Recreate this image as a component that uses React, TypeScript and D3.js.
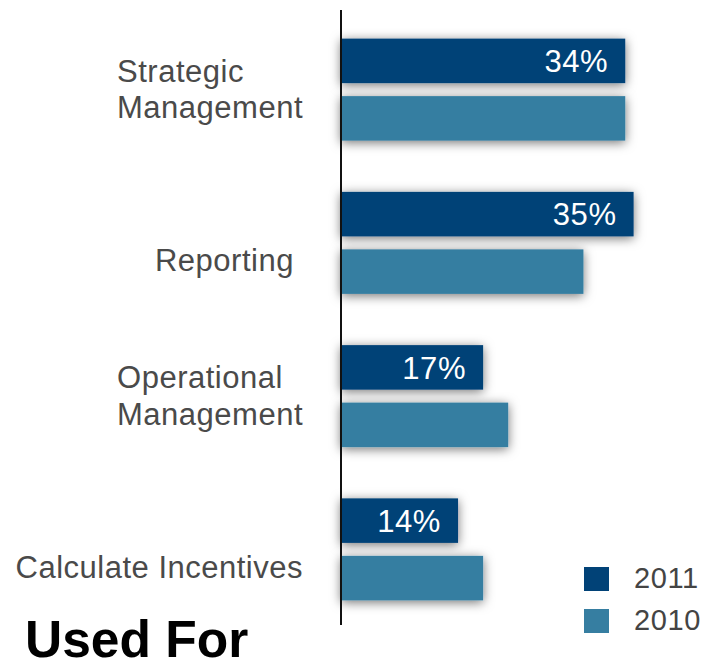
import React, { useEffect, useRef } from "react";
import * as d3 from "d3";

// Chart data
const categories: string[][] = [
  ["Strategic", "Management"],
  ["Reporting\u00a0"],
  ["Operational", "Management"],
  ["Calculate Incentives"],
];
const seriesNames = ["2011", "2010"];
const values2011 = [34, 35, 17, 14];
const values2010 = [34, 29, 20, 17];
const colors = ["#014277", "#367ea1"];
const title = "Used For";

const W = 709;
const H = 665;
const FONT = "'Liberation Sans', Arial, Helvetica, sans-serif";

export default function App() {
  const ref = useRef<SVGSVGElement | null>(null);

  useEffect(() => {
    const svg = d3.select(ref.current);
    svg.selectAll("*").remove();

    const axisX = 341;
    const x = d3.scaleLinear().domain([0, 40]).range([axisX, axisX + 334.4]);
    const groupIdx = categories.map((_, i) => i);
    const y = d3.scaleBand<number>().domain(groupIdx).range([13, 626]).padding(0);
    const pairHeight = 102;
    const inner = d3
      .scaleBand<string>()
      .domain(seriesNames)
      .range([-pairHeight / 2, pairHeight / 2])
      .paddingInner(0.226)
      .paddingOuter(0);

    const defs = svg.append("defs");
    const f = defs
      .append("filter")
      .attr("id", "barShadow")
      .attr("x", "-20%")
      .attr("y", "-60%")
      .attr("width", "140%")
      .attr("height", "220%");
    f.append("feDropShadow")
      .attr("dx", 0)
      .attr("dy", 2)
      .attr("stdDeviation", 5.5)
      .attr("flood-color", "#000")
      .attr("flood-opacity", 0.55);

    const series = [values2011, values2010];
    const rows = groupIdx.flatMap((g) =>
      seriesNames.map((s, si) => ({ g, s, si, v: series[si][g] }))
    );

    const center = (g: number) => (y(g) as number) + y.bandwidth() / 2;

    // bars
    svg
      .append("g")
      .selectAll("rect")
      .data(rows)
      .join("rect")
      .attr("x", x(0))
      .attr("y", (d) => center(d.g) + (inner(d.s) as number))
      .attr("width", (d) => x(d.v) - x(0))
      .attr("height", inner.bandwidth())
      .attr("fill", (d) => colors[d.si])
      .attr("filter", "url(#barShadow)");

    // value labels on the 2011 bars
    svg
      .append("g")
      .selectAll("text")
      .data(rows.filter((d) => d.si === 0))
      .join("text")
      .attr("x", (d) => x(d.v) - 17)
      .attr("y", (d) => center(d.g) + (inner(d.s) as number) + inner.bandwidth() / 2)
      .attr("dy", "0.36em")
      .attr("text-anchor", "end")
      .attr("fill", "#fff")
      .attr("font-family", FONT)
      .attr("font-size", 31)
      .attr("letter-spacing", 0.6)
      .text((d) => `${d.v}%`);

    // axis line
    svg
      .append("line")
      .attr("x1", axisX)
      .attr("x2", axisX)
      .attr("y1", 10)
      .attr("y2", 625)
      .attr("stroke", "#111")
      .attr("stroke-width", 2);

    // category labels: block right-aligned, lines left-aligned, bottom line fixed
    const labelRight = 303;
    const lineGap = 36.5;
    groupIdx.forEach((g) => {
      const lines = categories[g];
      const lg = svg.append("g");
      const texts = lines.map((line, li) =>
        lg
          .append("text")
          .attr("y", center(g) + 28.6 - (lines.length - 1 - li) * lineGap)
          .attr("fill", "#4a4a4a")
          .attr("font-family", FONT)
          .attr("font-size", 31)
          .attr("letter-spacing", 0.5)
          .style("white-space", "pre")
          .text(line)
      );
      const maxW = d3.max(texts, (t) => (t.node() as SVGTextElement).getComputedTextLength()) || 0;
      texts.forEach((t) => t.attr("x", labelRight - maxW));
    });

    // legend
    const legend = svg
      .append("g")
      .selectAll("g")
      .data(seriesNames)
      .join("g")
      .attr("transform", (_, i) => `translate(584, ${567 + i * 42})`);
    legend
      .append("rect")
      .attr("width", 25)
      .attr("height", 24)
      .attr("fill", (_, i) => colors[i]);
    legend
      .append("text")
      .attr("x", 50)
      .attr("y", 21)
      .attr("fill", "#444")
      .attr("font-family", FONT)
      .attr("font-size", 29)
      .attr("letter-spacing", 0.6)
      .text((d) => d);

    // title
    svg
      .append("text")
      .attr("x", 25)
      .attr("y", 657)
      .attr("fill", "#000")
      .attr("font-family", FONT)
      .attr("font-weight", "bold")
      .attr("font-size", 51.5)
      .text(title);
  }, []);

  return (
    <svg
      ref={ref}
      width={W}
      height={H}
      style={{ position: "absolute", left: 0, top: 0, background: "#fff" }}
    />
  );
}
